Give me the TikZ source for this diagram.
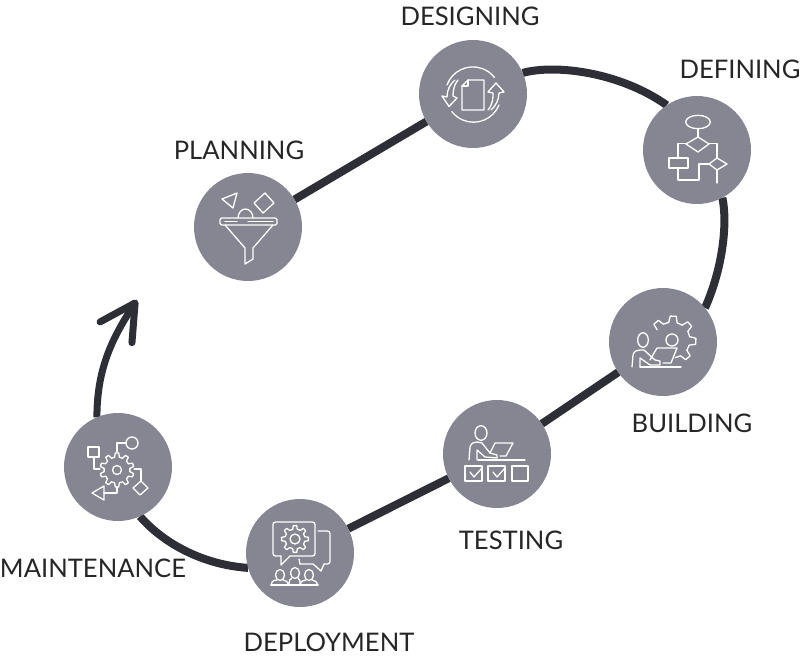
\documentclass[tikz,border=0pt]{standalone}
\usepackage{fontspec}
\setmainfont{Lato}
\usetikzlibrary{arrows.meta,backgrounds}

\definecolor{phasegray}{RGB}{133,134,145}
\definecolor{flowdark}{RGB}{46,47,54}

\tikzset{
    phase/.style={circle, fill=phasegray, minimum size=108pt, inner sep=0pt, outer sep=0pt},
    phaselabel/.style={text=black!85, font=\fontsize{25.6}{26}\selectfont, inner sep=0pt},
    flow/.style={draw=flowdark, line width=8pt},
    icon/.style={draw=white, line width=1.3pt, line join=round, line cap=round}
}

% center, base radius, tip radius, first angle, step, last angle
\newcommand{\cogteeth}[6]{
    \begin{scope}[shift={(#1)}]
    \pgfmathsetmacro{\secondangle}{#4+#5}
    \foreach \a in {#4,\secondangle,...,#6} {
        \draw[icon] ({\a-0.3*#5}:#2) -- ({\a-0.16*#5}:#3) -- ({\a+0.16*#5}:#3)
            -- ({\a+0.3*#5}:#2) -- ({\a+0.7*#5}:#2);
    }
    \end{scope}
}

\begin{document}
\begin{tikzpicture}[x=1pt, y=-1pt]
    \useasboundingbox (0, 0) rectangle (800, 658);

    % Phases
    \node[phase] (planning) at (248, 227) {};
    \node[phase] (designing) at (473, 94) {};
    \node[phase] (defining) at (697, 150) {};
    \node[phase] (building) at (663, 342) {};
    \node[phase] (testing) at (497, 454) {};
    \node[phase] (deployment) at (300, 553) {};
    \node[phase] (maintenance) at (118, 467) {};
    \coordinate (arrowtip) at (137, 300);

    % Labels
    \node[phaselabel] (planningtext) at (239, 150) {PLANNING};
    \node[phaselabel] (designingtext) at (470, 16) {DESIGNING};
    \node[phaselabel] (definingtext) at (740, 69) {DEFINING};
    \node[phaselabel] (buildingtext) at (692, 423) {BUILDING};
    \node[phaselabel] (testingtext) at (511, 540) {TESTING};
    \node[phaselabel] (deploymenttext) at (329, 642) {DEPLOYMENT};
    \node[phaselabel] (maintenancetext) at (93, 568) {MAINTENANCE};

    % Connectors
    \begin{scope}[on background layer]
        \draw[flow] (planning) -- (designing);
        \draw[flow] (designing.23) .. controls (555, 64) and (620, 72) .. (defining.124);
        \draw[flow] (defining.-62) .. controls (728, 225) and (722, 270) .. (building.39);
        \draw[flow] (building) -- (testing);
        \draw[flow] (testing) -- (deployment);
        \draw[flow] (deployment.196) .. controls (205, 565) and (165, 545) .. (maintenance.-66);
        \draw[flow, line width=7pt, -{Straight Barb[length=35pt, width=38pt, round]}]
            (maintenance.113) .. controls (97, 370) and (111, 340) .. (arrowtip);
    \end{scope}

    % Planning icon
    \begin{scope}[shift={(planning.center)}]
        \draw[icon, rounded corners=1.5pt] (-28, -9) rectangle (29, -2);
        \draw[icon] (-23, -5.5) -- (-11, -5.5) (0, -5.5) -- (25, -5.5);
        \draw[icon] (-23, -2) -- (-3, 21) -- (-3, 37) -- (5, 32) -- (5, 21) -- (25, -2);
        \draw[icon] (-26, -28) -- (-11, -34) -- (-15, -19) -- cycle;
        \draw[icon] (6, -24) -- (17, -34) -- (26, -24) -- (15, -14) -- cycle;
        \draw[icon] (-10, -9) arc (180:360:7.5 and 9);
    \end{scope}

    % Designing icon
    \begin{scope}[shift={(designing.center)}]
        \draw[icon] (-11, -8) -- (-5, -14) -- (11, -14) -- (11, 16) -- (-11, 16) -- cycle;
        \draw[icon] (-5, -14) -- (-5, -8) -- (-11, -8);
        \draw[icon] (-26, -9) arc (-160:-38:27.5);
        \draw[icon] (26, 11) arc (22:142:27.5);
        \draw[icon] (-15, -14) .. controls (-19, -9) and (-20, -4) .. (-20, 2) -- (-16, 4) -- (-24, 12.5)
            -- (-31, 2) -- (-26, 3) .. controls (-26, -4) and (-23, -10) .. (-18, -14);
        \draw[icon] (15, 16) .. controls (20, 10) and (20, 4) .. (20, -1) -- (15, -2) -- (23, -11)
            -- (31, -2) -- (26, -1) .. controls (26, 5) and (23, 12) .. (18, 16);
    \end{scope}

    % Defining icon
    \begin{scope}[shift={(defining.center)}]
        \draw[icon] (1, -28) ellipse (12.3 and 6.7);
        \draw[icon] (1, -21) -- (1, -13);
        \draw[icon] (1, -13) -- (12, -6) -- (1, 2) -- (-11, -6) -- cycle;
        \draw[icon] (-11, -6.5) -- (-19, -6.5) -- (-19, 8);
        \draw[icon] (-28, 8) rectangle (-9, 18);
        \draw[icon] (-19, 18) -- (-19, 30) -- (2, 30) -- (2, 14) -- (12, 14);
        \draw[icon] (12, -6.5) -- (20, -6.5) -- (20, 8);
        \draw[icon] (20, 8) -- (30, 14) -- (20, 20) -- (12, 14) -- cycle;
        \draw[icon] (20, 20) -- (20, 33);
    \end{scope}

    % Building icon
    \begin{scope}[shift={(building.center)}]
        \draw[icon] (-20, -2) ellipse (5.3 and 7.3);
        \draw[icon] (-31, 25) -- (-30, 13) .. controls (-29, 9) and (-26, 8) .. (-23, 8) -- (-19, 8) -- (-8, 18) -- (-3, 19) -- (-3, 23) -- (-13, 23) -- (-23, 16) -- (-23, 25);
        \draw[icon] (-13, 18) -- (-6, 6) -- (14, 6) -- (8, 21) -- (0, 21);
        \draw[icon] (-23, 25) -- (18, 25);
        \draw[icon] (9, -2) circle (6);
        \cogteeth{9, -2}{18}{24}{-132}{45}{48}
    \end{scope}

    % Testing icon
    \begin{scope}[shift={(testing.center)}]
        \draw[icon] (-16, -21) ellipse (6 and 7.3);
        \draw[icon] (-28, 6) -- (-27, -7) .. controls (-26, -11) and (-23, -12) .. (-20, -12) -- (-15, -11) -- (-7, -1) -- (0, 1) -- (0, 4) -- (-12, 3) -- (-20, -4) -- (-20, 6);
        \draw[icon] (-7, -1) -- (-2, -11) -- (16, -11) -- (9, 2) -- (3, 2);
        \draw[icon] (-19, 6) -- (28, 6);
        \draw[icon] (-32, 12) rectangle (-15, 27);
        \draw[icon] (-9, 12) rectangle (8, 27);
        \draw[icon] (15, 12) rectangle (31, 27);
        \draw[icon] (-27, 18) -- (-23, 23) -- (-15, 14);
        \draw[icon] (-4, 18) -- (0, 23) -- (8, 14);
    \end{scope}

    % Deployment icon
    \begin{scope}[shift={(deployment.center)}]
        \draw[icon, rounded corners=2.5pt] (-10, 3) -- (15, 3) -- (15, -31) -- (-27, -31) -- (-27, 3) -- (-19, 3);
        \draw[icon] (-19, 3) -- (-19, 12) -- (-10, 3);
        \draw[icon, rounded corners=2.5pt] (18, -22) -- (30, -22) -- (30, 11) -- (24, 11);
        \draw[icon] (24, 11) -- (21, 18) -- (13, 11) -- (0, 11);
        \draw[icon] (0, 11) -- (-1, 6);
        \draw[icon] (-5, -14) circle (5);
        \cogteeth{-5, -14}{10}{13.5}{-90}{45}{225}
        \draw[icon] (-20, 22) ellipse (4.5 and 5.5);
        \draw[icon] (-5, 20) ellipse (4.5 and 5.5);
        \draw[icon] (9, 22) ellipse (4.5 and 5.5);
        \draw[icon] (-29, 32) .. controls (-28, 27) and (-25, 27) .. (-23, 27);
        \draw[icon] (-17, 27) .. controls (-14, 27) and (-12, 29) .. (-11, 32);
        \draw[icon] (-11, 32) .. controls (-11, 27) and (-10, 26) .. (-8, 25);
        \draw[icon] (-2, 25) .. controls (0, 26) and (0, 28) .. (0, 32);
        \draw[icon] (0, 32) .. controls (1, 28) and (3, 27) .. (6, 27);
        \draw[icon] (12, 27) .. controls (15, 27) and (17, 29) .. (18, 32);
        \draw[icon] (-29, 32) -- (18, 32);
    \end{scope}

    % Maintenance icon
    \begin{scope}[shift={(maintenance.center)}]
        \draw[icon] (-1, 3) circle (4.5);
        \cogteeth{-1, 3}{13}{17}{-90}{36}{234}
        \draw[icon] (-30, -20) rectangle (-19, -10);
        \draw[icon] (-24, -10) -- (-24, 2) -- (-18, 2);
        \draw[icon] (14, -24) circle (6);
        \draw[icon] (8, -24) -- (-1, -24) -- (-1, -15);
        \draw[icon] (16, 2) -- (23, 2) -- (23, 14);
        \draw[icon] (23, 14) -- (30, 21) -- (22, 28) -- (15, 21) -- cycle;
        \draw[icon] (-26, 26) -- (-14, 19) -- (-14, 33) -- cycle;
        \draw[icon] (-14, 26) -- (-1, 26) -- (-1, 20);
    \end{scope}
\end{tikzpicture}
\end{document}
